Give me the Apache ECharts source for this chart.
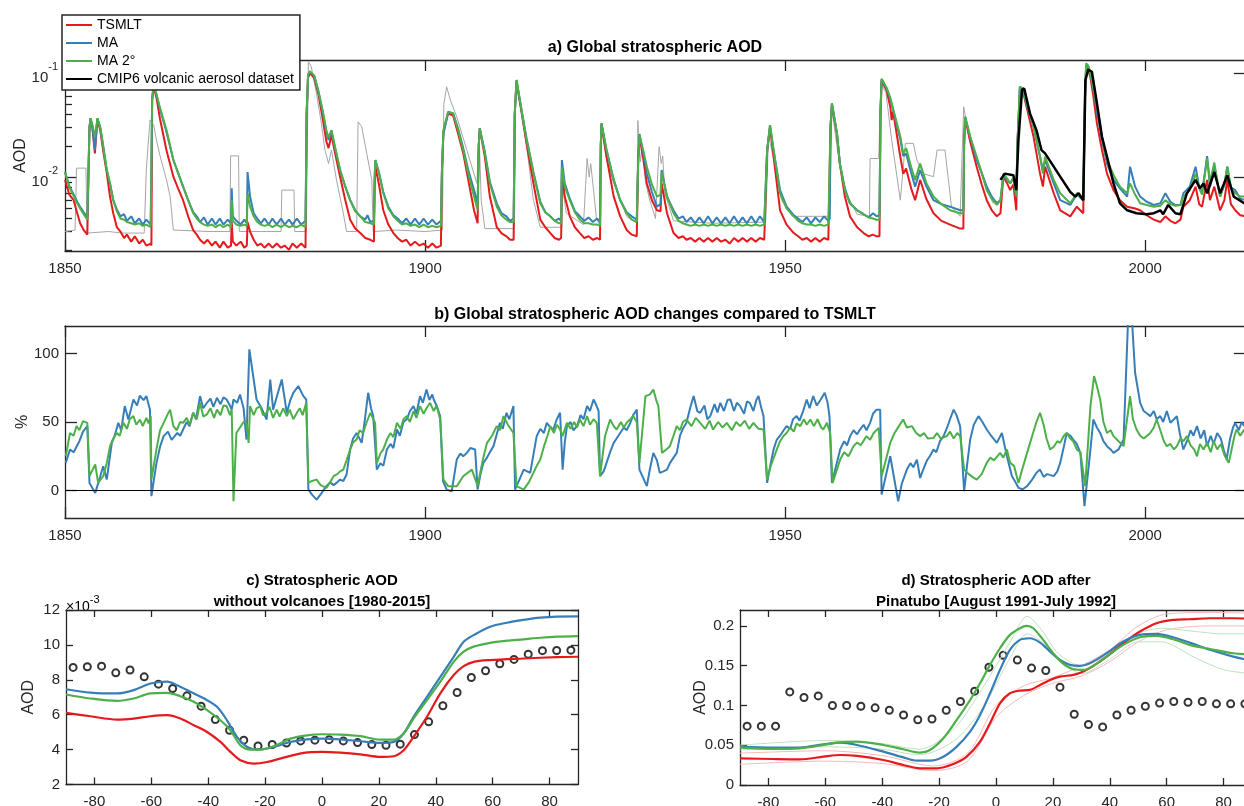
<!DOCTYPE html>
<html><head><meta charset="utf-8">
<script src="https://cdn.jsdelivr.net/npm/echarts@6/dist/echarts.min.js"></script>
<style>html,body{margin:0;padding:0;background:#fff}#chart{width:1244px;height:806px}</style>
</head><body><div id="chart"></div>
<script>
// ---------------- tick labels ----------------
const yearTicks = [1850, 1900, 1950, 2000];
const aodMajorTicks = [0.01, 0.1];
const aodMinorTicks = [0.002,0.003,0.004,0.005,0.006,0.007,0.008,0.009,0.02,0.03,0.04,0.05,0.06,0.07,0.08,0.09];
const pctTicks = [0, 50, 100];
const latTicks = [-80, -60, -40, -20, 0, 20, 40, 60, 80];
const cTicks = [2, 4, 6, 8, 10, 12];
const dTicks = [0, 0.05, 0.1, 0.15, 0.2];

// ---------------- panel a: global stratospheric AOD [year, AOD] ----------------
const aTSMLT = [[1850.0,0.0094],[1850.6,0.0068],[1851.2,0.006],[1851.7,0.0045],[1852.1,0.0036],[1852.6,0.0031],[1853.1,0.0028],[1853.3,0.0027],
[1853.4,0.03],[1853.55,0.0366],[1853.8,0.03],[1854.15,0.0169],[1854.5,0.0366],[1854.9,0.028],[1855.3,0.018],[1855.8,0.011],[1856.25,0.0065],[1856.7,0.0045],[1857.2,0.0033],[1857.7,0.003],[1858.2,0.0026],[1858.6,0.0028],[1859.2,0.0024],[1859.7,0.0027],[1860.3,0.0023],[1860.8,0.0025],[1861.3,0.0022],[1861.9,0.0023],
[1862.0,0.0022],[1862.1,0.055],[1862.3,0.075],[1862.7,0.058],[1863.2,0.036],[1864.1,0.018],[1865.05,0.0101],[1865.7,0.0078],[1866.4,0.006],[1867.1,0.0042],[1867.8,0.0031],[1868.3,0.0028],[1868.75,0.0025],[1869.3,0.0023],[1869.8,0.0025],[1870.4,0.0022],[1870.9,0.0024],[1871.5,0.0021],[1872.0,0.0024],[1872.6,0.0021],[1873.05,0.0022],[1873.15,0.0037],[1873.3,0.0024],[1873.8,0.0022],[1874.4,0.0024],[1874.9,0.0021],[1875.25,0.0022],[1875.35,0.0037],[1875.7,0.003],[1876.2,0.0025],[1876.7,0.0022],[1877.2,0.0023],[1877.7,0.0021],[1878.3,0.0023],[1878.8,0.0021],[1879.4,0.0023],[1880.0,0.0021],[1880.5,0.0022],[1881.1,0.002],[1881.6,0.0023],[1882.2,0.0021],[1882.8,0.0023],[1883.4,0.0021],
[1883.55,0.04],[1883.75,0.09],[1884.0,0.1],[1884.6,0.09],[1885.2,0.062],[1885.8,0.036],[1886.3,0.022],[1886.6,0.019],[1887.0,0.0254],[1887.5,0.017],[1888.2,0.0101],[1888.9,0.0061],[1889.6,0.0039],[1890.3,0.0032],[1891.0,0.0029],[1891.7,0.0026],[1892.4,0.0025],[1892.9,0.0024],
[1893.0,0.008],[1893.1,0.0126],[1893.6,0.0085],[1894.2,0.0048],[1894.9,0.0035],[1895.6,0.0029],[1896.2,0.0026],[1896.8,0.0024],[1897.4,0.0025],[1898.0,0.0022],[1898.6,0.0024],[1899.2,0.0022],[1899.8,0.0023],[1900.4,0.0021],[1901.0,0.0023],[1901.6,0.0021],[1902.2,0.0022],
[1902.35,0.012],[1902.55,0.027],[1903.2,0.041],[1903.9,0.039],[1904.6,0.026],[1905.3,0.017],[1906.0,0.0094],[1906.8,0.0048],[1907.3,0.0036],
[1907.45,0.02],[1907.6,0.0294],[1908.3,0.0157],[1909.0,0.0065],[1909.96,0.0033],[1910.6,0.0029],[1911.3,0.0027],[1911.8,0.0025],[1912.3,0.0025],
[1912.45,0.04],[1912.7,0.083],[1913.4,0.042],[1914.1,0.021],[1915.05,0.0087],[1916.0,0.0039],[1916.7,0.0033],[1917.4,0.0029],[1918.0,0.0026],[1918.6,0.0025],[1918.9,0.0026],
[1919.0,0.0108],[1919.4,0.0065],[1920.1,0.0042],[1920.8,0.0033],[1921.5,0.0029],[1922.1,0.0026],[1922.7,0.0027],[1923.3,0.0025],[1923.9,0.0026],[1924.3,0.0025],
[1924.4,0.02],[1924.5,0.0328],[1925.2,0.0157],[1926.2,0.0065],[1927.1,0.0042],[1928.0,0.0031],[1928.7,0.0028],[1929.4,0.0027],
[1929.6,0.015],[1929.77,0.025],[1930.3,0.015],[1930.8,0.0087],[1931.5,0.006],[1932.2,0.0048],[1932.7,0.0047],
[1932.85,0.0087],[1933.6,0.0045],[1934.5,0.0029],[1935.2,0.0026],[1935.8,0.0027],[1936.3,0.0025],[1936.9,0.0026],[1937.5,0.0024],[1938.1,0.0026],[1938.7,0.0024],[1939.3,0.0026],[1939.9,0.0024],[1940.5,0.0026],[1941.1,0.0024],[1941.7,0.0025],[1942.3,0.0023],[1942.9,0.0026],[1943.5,0.0024],[1944.1,0.0026],[1944.7,0.0024],[1945.3,0.0026],[1945.9,0.0024],[1946.5,0.0026],[1947.1,0.0025],
[1947.3,0.0026],[1947.5,0.018],[1947.9,0.03],[1948.4,0.0157],[1949.3,0.0048],[1950.2,0.0035],[1951.2,0.0029],[1951.8,0.0027],[1952.4,0.0025],[1953.0,0.0026],[1953.6,0.0024],[1954.2,0.0026],[1954.8,0.0024],[1955.4,0.0026],[1956.0,0.0025],[1956.2,0.0026],
[1956.3,0.03],[1956.5,0.05],[1957.2,0.026],[1957.6,0.0135],[1958.3,0.0065],[1959.0,0.0042],[1960.0,0.0033],[1960.9,0.0029],[1961.6,0.0027],[1962.2,0.0028],[1962.7,0.0027],[1963.1,0.0027],
[1963.25,0.04],[1963.4,0.085],[1964.1,0.068],[1964.6,0.0475],[1964.8,0.0353],[1965.0,0.0425],[1966.0,0.0157],[1966.4,0.0108],[1966.8,0.0121],[1967.5,0.0078],[1968.05,0.006],[1968.75,0.0094],[1969.6,0.0062],[1970.6,0.0045],[1971.7,0.0038],[1972.9,0.0035],[1974.3,0.0032],[1974.75,0.0032],
[1974.85,0.02],[1975.0,0.037],[1975.7,0.022],[1976.6,0.0126],[1977.3,0.0085],[1978.0,0.006],[1978.7,0.0048],[1979.4,0.0042],[1979.9,0.0045],
[1980.3,0.0101],[1980.8,0.0088],[1981.25,0.0075],[1981.7,0.0085],[1982.1,0.0048],[1982.25,0.02],[1982.6,0.07],[1983.0,0.068],[1983.6,0.045],[1984.5,0.0244],[1985.4,0.0108],[1985.8,0.0081],[1986.1,0.0126],[1987.3,0.007],[1988.2,0.0048],[1989.6,0.0042],[1990.5,0.0052],[1991.4,0.0045],[1991.55,0.0046],
[1991.65,0.06],[1991.8,0.113],[1992.1,0.11],[1992.4,0.09],[1992.8,0.06],[1993.3,0.0328],[1994.0,0.0182],[1994.7,0.0108],[1995.6,0.0075],[1996.5,0.006],[1997.5,0.0052],[1998.6,0.005],[1999.3,0.0048],[2000.2,0.0043],[2001.2,0.0039],[2002.1,0.0037],[2002.8,0.0042],[2003.5,0.0038],[2004.2,0.0036],[2004.9,0.0039],[2005.3,0.0052],[2006.2,0.006],[2007.0,0.0081],[2007.5,0.0055],[2007.9,0.0052],[2008.6,0.0094],[2009.0,0.006],[2009.6,0.0081],[2010.4,0.0048],[2011.0,0.006],[2011.4,0.0094],[2011.9,0.0055],[2012.5,0.0048],[2013.2,0.0043],[2014.0,0.0042]];

const aMA = [[1850.0,0.0112],[1850.6,0.0082],[1851.2,0.0068],[1851.7,0.0058],[1852.1,0.0052],[1852.6,0.0046],[1853.1,0.0041],[1853.3,0.004],
[1853.4,0.03],[1853.55,0.0366],[1853.8,0.03],[1854.15,0.0182],[1854.5,0.0366],[1854.9,0.03],[1855.3,0.02],[1855.8,0.0117],[1856.25,0.0087],[1856.7,0.006],[1857.2,0.0049],[1857.7,0.0042],[1858.2,0.0044],[1858.6,0.0038],[1859.2,0.0042],[1859.7,0.0036],[1860.3,0.004],[1860.8,0.0035],[1861.3,0.0039],[1861.9,0.0035],
[1862.0,0.0035],[1862.1,0.055],[1862.3,0.076],[1862.7,0.062],[1863.2,0.045],[1864.1,0.027],[1865.05,0.0146],[1865.7,0.011],[1866.4,0.0081],[1867.1,0.006],[1867.8,0.0046],[1868.3,0.0042],[1868.75,0.0037],[1869.3,0.0041],[1869.8,0.0035],[1870.4,0.004],[1870.9,0.0035],[1871.5,0.004],[1872.0,0.0035],[1872.6,0.0039],[1873.05,0.0036],[1873.15,0.0078],[1873.3,0.0042],[1873.8,0.0038],[1874.4,0.0035],[1874.9,0.0039],[1875.25,0.0036],[1875.35,0.0112],[1875.7,0.0065],[1876.2,0.0045],[1876.7,0.004],[1877.2,0.0036],[1877.7,0.004],[1878.3,0.0035],[1878.8,0.004],[1879.4,0.0035],[1880.0,0.004],[1880.5,0.0035],[1881.1,0.0039],[1881.6,0.0035],[1882.2,0.004],[1882.8,0.0035],[1883.4,0.0038],
[1883.55,0.04],[1883.75,0.095],[1884.0,0.103],[1884.6,0.094],[1885.2,0.066],[1885.8,0.042],[1886.3,0.027],[1886.6,0.0227],[1887.0,0.028],[1887.5,0.019],[1888.2,0.0117],[1888.9,0.0082],[1889.6,0.006],[1890.3,0.0048],[1891.0,0.0042],[1891.7,0.0039],[1892.0,0.0043],[1892.4,0.0037],[1892.9,0.0038],
[1893.0,0.01],[1893.1,0.0146],[1893.6,0.011],[1894.2,0.0072],[1894.9,0.0052],[1895.6,0.0043],[1896.2,0.004],[1896.8,0.0036],[1897.4,0.004],[1898.0,0.0035],[1898.6,0.004],[1899.2,0.0035],[1899.8,0.004],[1900.4,0.0035],[1901.0,0.0039],[1901.6,0.0035],[1902.2,0.0038],
[1902.35,0.012],[1902.55,0.026],[1903.2,0.042],[1903.9,0.041],[1904.6,0.029],[1905.3,0.019],[1906.0,0.0117],[1906.8,0.0075],[1907.3,0.0056],
[1907.45,0.02],[1907.6,0.0294],[1908.3,0.0175],[1909.0,0.009],[1909.96,0.0056],[1910.6,0.0045],[1911.3,0.0042],[1911.8,0.0038],[1912.3,0.004],
[1912.45,0.04],[1912.7,0.0857],[1913.4,0.044],[1914.1,0.0235],[1915.05,0.0112],[1916.0,0.0058],[1916.7,0.0046],[1917.4,0.0042],[1918.0,0.0038],[1918.6,0.004],[1918.9,0.0038],
[1919.0,0.0146],[1919.4,0.0087],[1920.1,0.0062],[1920.8,0.0047],[1921.5,0.0042],[1922.1,0.0038],[1922.7,0.0041],[1923.3,0.0037],[1923.9,0.004],[1924.3,0.0037],
[1924.4,0.02],[1924.5,0.0328],[1925.2,0.0182],[1926.2,0.0094],[1927.1,0.006],[1928.0,0.0046],[1928.7,0.0042],[1929.4,0.0039],
[1929.6,0.015],[1929.77,0.026],[1930.3,0.017],[1930.8,0.0108],[1931.5,0.0072],[1932.2,0.0052],[1932.7,0.0055],
[1932.85,0.0117],[1933.6,0.0065],[1934.5,0.0048],[1935.2,0.004],[1935.8,0.0042],[1936.3,0.0037],[1936.9,0.0041],[1937.5,0.0036],[1938.1,0.0041],[1938.7,0.0036],[1939.3,0.0042],[1939.9,0.0036],[1940.5,0.0041],[1941.1,0.0036],[1941.7,0.0041],[1942.3,0.0036],[1942.9,0.0042],[1943.5,0.0036],[1944.1,0.0041],[1944.7,0.0036],[1945.3,0.0042],[1945.9,0.0036],[1946.5,0.0042],[1947.1,0.0037],
[1947.3,0.0038],[1947.5,0.018],[1947.9,0.0316],[1948.4,0.0182],[1949.3,0.0075],[1950.2,0.0052],[1951.2,0.0043],[1951.8,0.004],[1952.4,0.0037],[1953.0,0.0041],[1953.6,0.0036],[1954.2,0.0041],[1954.8,0.0037],[1955.4,0.0042],[1956.0,0.0038],[1956.2,0.004],
[1956.3,0.03],[1956.5,0.0512],[1957.2,0.0263],[1957.6,0.0135],[1958.3,0.0078],[1959.0,0.0056],[1960.0,0.0048],[1960.9,0.0044],[1961.6,0.0041],[1962.2,0.0045],[1962.7,0.0042],[1963.1,0.0043],
[1963.25,0.045],[1963.4,0.087],[1964.1,0.071],[1964.6,0.056],[1964.8,0.05],[1965.0,0.052],[1966.0,0.023],[1966.4,0.016],[1966.8,0.0169],[1967.5,0.011],[1968.05,0.0081],[1968.75,0.0117],[1969.6,0.0082],[1970.6,0.006],[1971.7,0.0055],[1972.9,0.0052],[1974.3,0.0048],[1974.75,0.0048],
[1974.85,0.02],[1975.0,0.038],[1975.7,0.0244],[1976.6,0.0146],[1977.3,0.011],[1978.0,0.0081],[1978.7,0.0065],[1979.4,0.0056],[1979.9,0.006],
[1980.3,0.0101],[1980.8,0.0095],[1981.25,0.0087],[1981.7,0.0098],[1982.1,0.0065],[1982.25,0.02],[1982.6,0.0738],[1983.0,0.07],[1983.6,0.0475],[1984.5,0.0305],[1985.4,0.0157],[1985.8,0.0117],[1986.1,0.0146],[1987.3,0.0087],[1988.2,0.006],[1989.6,0.0054],[1990.5,0.0068],[1991.4,0.006],[1991.55,0.006],
[1991.65,0.06],[1991.8,0.118],[1992.1,0.115],[1992.4,0.097],[1992.8,0.07],[1993.3,0.0425],[1994.0,0.0227],[1994.7,0.0135],[1995.6,0.0094],[1996.5,0.0078],[1997.5,0.0065],[1997.9,0.0126],[1998.6,0.0081],[1999.3,0.0065],[2000.2,0.0058],[2001.2,0.0054],[2002.1,0.0056],[2002.8,0.007],[2003.5,0.0058],[2004.2,0.0054],[2004.9,0.0054],[2005.3,0.007],[2006.2,0.0081],[2007.0,0.0126],[2007.5,0.008],[2007.9,0.007],[2008.6,0.0159],[2009.0,0.0081],[2009.6,0.0126],[2010.4,0.0065],[2011.0,0.0085],[2011.4,0.0126],[2011.9,0.008],[2012.5,0.0075],[2013.2,0.0062],[2014.0,0.006]];

const aMA2 = [[1850.0,0.0112],[1850.6,0.008],[1851.2,0.0066],[1851.7,0.0056],[1852.1,0.005],[1852.6,0.0044],[1853.1,0.0039],[1853.3,0.0039],
[1853.4,0.03],[1853.55,0.0366],[1853.8,0.032],[1854.15,0.0244],[1854.5,0.0366],[1854.9,0.03],[1855.3,0.02],[1855.8,0.0117],[1856.25,0.0087],[1856.7,0.006],[1857.2,0.0047],[1857.7,0.004],[1858.2,0.0039],[1858.6,0.0037],[1859.2,0.0036],[1859.7,0.0035],[1860.3,0.0036],[1860.8,0.0034],[1861.3,0.0035],[1861.9,0.0033],
[1862.0,0.0033],[1862.1,0.055],[1862.3,0.077],[1862.7,0.063],[1863.2,0.046],[1864.1,0.0283],[1865.05,0.0146],[1865.7,0.011],[1866.4,0.0081],[1867.1,0.006],[1867.8,0.0045],[1868.3,0.004],[1868.75,0.0037],[1869.3,0.0035],[1869.8,0.0034],[1870.4,0.0035],[1870.9,0.0033],[1871.5,0.0035],[1872.0,0.0033],[1872.6,0.0035],[1873.05,0.0033],[1873.15,0.006],[1873.3,0.0038],[1873.8,0.0035],[1874.4,0.0034],[1874.9,0.0035],[1875.25,0.0034],[1875.35,0.007],[1875.7,0.0052],[1876.2,0.0042],[1876.7,0.0037],[1877.2,0.0035],[1877.7,0.0034],[1878.3,0.0035],[1878.8,0.0033],[1879.4,0.0035],[1880.0,0.0033],[1880.5,0.0035],[1881.1,0.0033],[1881.6,0.0034],[1882.2,0.0033],[1882.8,0.0035],[1883.4,0.0033],
[1883.55,0.04],[1883.75,0.097],[1884.0,0.104],[1884.6,0.095],[1885.2,0.067],[1885.8,0.043],[1886.3,0.028],[1886.6,0.024],[1887.0,0.0283],[1887.5,0.0195],[1888.2,0.0117],[1888.9,0.0082],[1889.6,0.006],[1890.3,0.0047],[1891.0,0.0042],[1891.7,0.0037],[1892.4,0.0036],[1892.9,0.0035],
[1893.0,0.01],[1893.1,0.0146],[1893.6,0.011],[1894.2,0.007],[1894.9,0.005],[1895.6,0.0042],[1896.2,0.0038],[1896.8,0.0035],[1897.4,0.0036],[1898.0,0.0034],[1898.6,0.0035],[1899.2,0.0033],[1899.8,0.0035],[1900.4,0.0033],[1901.0,0.0034],[1901.6,0.0033],[1902.2,0.0034],
[1902.35,0.012],[1902.55,0.0283],[1903.2,0.0425],[1903.9,0.041],[1904.6,0.028],[1905.3,0.0182],[1906.0,0.0108],[1906.8,0.0065],[1907.3,0.0048],
[1907.45,0.02],[1907.6,0.0294],[1908.3,0.0169],[1909.0,0.0087],[1909.96,0.0052],[1910.6,0.0043],[1911.3,0.0039],[1911.8,0.0037],[1912.3,0.0037],
[1912.45,0.04],[1912.7,0.0857],[1913.4,0.044],[1914.1,0.0227],[1915.05,0.0108],[1916.0,0.0056],[1916.7,0.0046],[1917.4,0.0042],[1918.0,0.0038],[1918.6,0.0036],[1918.9,0.0036],
[1919.0,0.0126],[1919.4,0.0081],[1920.1,0.006],[1920.8,0.0046],[1921.5,0.0039],[1922.1,0.0036],[1922.7,0.0036],[1923.3,0.0035],[1923.9,0.0035],[1924.3,0.0034],
[1924.4,0.02],[1924.5,0.0328],[1925.2,0.0182],[1926.2,0.0094],[1927.1,0.006],[1928.0,0.0045],[1928.7,0.0039],[1929.4,0.0037],
[1929.6,0.015],[1929.77,0.0254],[1930.3,0.018],[1930.8,0.0126],[1931.5,0.0085],[1932.2,0.0065],[1932.7,0.0068],
[1932.85,0.011],[1933.6,0.0065],[1934.5,0.0045],[1935.2,0.0038],[1935.8,0.0036],[1936.3,0.0035],[1936.9,0.0034],[1937.5,0.0035],[1938.1,0.0034],[1938.7,0.0035],[1939.3,0.0034],[1939.9,0.0035],[1940.5,0.0034],[1941.1,0.0035],[1941.7,0.0034],[1942.3,0.0035],[1942.9,0.0034],[1943.5,0.0035],[1944.1,0.0034],[1944.7,0.0035],[1945.3,0.0034],[1945.9,0.0035],[1946.5,0.0034],[1947.1,0.0035],
[1947.3,0.0035],[1947.5,0.018],[1947.9,0.0316],[1948.4,0.0182],[1949.3,0.007],[1950.2,0.005],[1951.2,0.0042],[1951.8,0.0038],[1952.4,0.0036],[1953.0,0.0035],[1953.6,0.0035],[1954.2,0.0034],[1954.8,0.0035],[1955.4,0.0034],[1956.0,0.0035],[1956.2,0.0035],
[1956.3,0.03],[1956.5,0.0512],[1957.2,0.0263],[1957.6,0.0135],[1958.3,0.0075],[1959.0,0.0056],[1960.0,0.0048],[1960.9,0.0044],[1961.6,0.0041],[1962.2,0.004],[1962.7,0.0039],[1963.1,0.0039],
[1963.25,0.045],[1963.4,0.088],[1964.1,0.072],[1964.6,0.058],[1964.8,0.0512],[1965.0,0.053],[1966.0,0.0244],[1966.4,0.0169],[1966.8,0.019],[1967.5,0.0125],[1968.05,0.0094],[1968.75,0.0135],[1969.6,0.0088],[1970.6,0.0065],[1971.7,0.0055],[1972.9,0.0048],[1974.3,0.0045],[1974.75,0.0045],
[1974.85,0.02],[1975.0,0.038],[1975.7,0.0244],[1976.6,0.0157],[1977.3,0.011],[1978.0,0.0075],[1978.7,0.0062],[1979.4,0.0054],[1979.9,0.006],
[1980.3,0.0108],[1980.8,0.0098],[1981.25,0.0087],[1981.7,0.0098],[1982.1,0.0065],[1982.25,0.02],[1982.6,0.0738],[1983.0,0.071],[1983.6,0.05],[1984.5,0.0305],[1985.4,0.0157],[1985.8,0.0108],[1986.1,0.0157],[1987.3,0.0094],[1988.2,0.007],[1989.6,0.0056],[1990.5,0.007],[1991.4,0.006],[1991.55,0.006],
[1991.65,0.07],[1991.8,0.124],[1992.1,0.118],[1992.4,0.099],[1992.8,0.072],[1993.3,0.0475],[1994.0,0.0244],[1994.7,0.0146],[1995.6,0.0105],[1996.5,0.0081],[1997.5,0.007],[1997.9,0.0087],[1998.6,0.0068],[1999.3,0.0056],[2000.2,0.0054],[2001.2,0.0052],[2002.1,0.0053],[2002.8,0.006],[2003.5,0.0055],[2004.2,0.0053],[2004.9,0.0054],[2005.3,0.0065],[2006.2,0.0075],[2007.0,0.0108],[2007.5,0.0078],[2007.9,0.0068],[2008.6,0.0151],[2009.0,0.009],[2009.6,0.0138],[2010.4,0.0065],[2011.0,0.0085],[2011.4,0.0126],[2011.9,0.008],[2012.5,0.007],[2013.2,0.0065],[2014.0,0.0065]];

const aCMIP6pre = [[1850.0,0.003],[1851.4,0.0031],[1851.6,0.0122],[1852.9,0.0122],[1853.1,0.0029],[1856,0.003],[1858,0.0029],[1861.0,0.0029],[1861.3,0.012],[1861.8,0.0353],[1862.3,0.032],[1862.7,0.0227],[1863.2,0.016],[1864.1,0.0094],[1864.6,0.0065],[1865.05,0.0031],[1870,0.003],[1872.9,0.003],[1873.0,0.016],[1874.1,0.016],[1874.2,0.003],[1880.0,0.003],[1880.1,0.0075],[1881.8,0.0075],[1881.9,0.003],[1883.5,0.003],[1883.8,0.1286],[1884.2,0.115],[1884.95,0.062],[1885.6,0.0328],[1886.1,0.0182],[1886.6,0.0135],[1887.0,0.0182],[1887.7,0.0094],[1888.65,0.0045],[1889.1,0.003],[1890.5,0.003],[1890.7,0.034],[1891.2,0.0305],[1891.9,0.0169],[1892.6,0.0094],[1892.8,0.003],[1896,0.0031],[1900,0.003],[1902.4,0.0031],[1902.6,0.05],[1903.0,0.0738],[1903.5,0.0553],[1904.4,0.038],[1905.8,0.0182],[1907.2,0.0087],[1907.5,0.0263],[1907.8,0.006],[1908.3,0.0032],[1912.4,0.0032],[1912.6,0.082],[1913.2,0.05],[1914.1,0.0196],[1915.05,0.006],[1916.0,0.0033],[1919.0,0.0033],[1919.1,0.008],[1919.6,0.0045],[1922.0,0.0035],[1922.3,0.0085],[1922.5,0.0151],[1922.8,0.01],[1923.0,0.0135],[1923.4,0.0075],[1923.8,0.004],[1924.3,0.0034],[1924.45,0.03],[1925.2,0.015],[1926.2,0.0087],[1928.0,0.0042],[1929.4,0.0036],[1929.55,0.035],[1929.9,0.014],[1930.2,0.02],[1930.6,0.009],[1931.2,0.006],[1932.0,0.004],[1932.5,0.0196],[1932.8,0.0135],[1933.0,0.016],[1933.3,0.007],[1934.5,0.0038],[1940,0.0036],[1947.3,0.0037],[1947.7,0.025],[1948.4,0.015],[1949.5,0.006],[1951,0.0042],[1956.2,0.0042],[1956.5,0.045],[1957.5,0.014],[1958.5,0.007],[1960,0.0044],[1961.7,0.0042],[1961.8,0.0151],[1963.0,0.0151],[1963.3,0.08],[1964.0,0.065],[1964.8,0.0227],[1966.0,0.006],[1966.7,0.0211],[1967.8,0.0211],[1968.3,0.0146],[1969.2,0.0108],[1970.6,0.0101],[1971.1,0.0182],[1972.2,0.0182],[1973.1,0.0052],[1974.3,0.0042],[1974.8,0.0475],[1975.5,0.0244],[1976.6,0.0146],[1978.0,0.0075],[1978.9,0.0056],[1979.9,0.006]];

const aCMIP6 = [[1979.9,0.0094],[1980.5,0.0108],[1981.7,0.0104],[1982.1,0.0075],[1982.4,0.0227],[1982.9,0.069],[1983.2,0.0712],[1984.0,0.041],[1984.9,0.0283],[1985.6,0.0182],[1986.1,0.0169],[1987.3,0.0126],[1988.2,0.0101],[1989.6,0.0072],[1990.3,0.0065],[1990.75,0.007],[1991.4,0.006],[1991.7,0.0857],[1992.1,0.108],[1992.6,0.103],[1993.3,0.0512],[1994.0,0.0244],[1994.7,0.0157],[1995.6,0.0087],[1996.5,0.0056],[1997.5,0.0048],[1998.8,0.0045],[2000.2,0.0044],[2001.2,0.0045],[2002.1,0.0048],[2002.5,0.0044],[2003.2,0.0054],[2004.2,0.0045],[2004.9,0.0044],[2005.8,0.007],[2007.0,0.0094],[2007.6,0.0078],[2008.1,0.0087],[2008.6,0.007],[2009.6,0.0112],[2010.4,0.007],[2011.4,0.0104],[2012.3,0.0065],[2013.75,0.0056],[2014.0,0.0056]];

// ---------------- panel b: change vs TSMLT (%) ----------------
const bMA = [[1850.1,20.2],[1850.7,30],[1851.2,28],[1851.6,32],[1852.0,36],[1852.5,43],[1853.1,47],[1853.4,5.6],[1854.2,-1.7],[1854.9,10.5],[1855.3,17.8],[1855.8,8],
[1856.5,34.8],[1856.9,40],[1857.4,49.4],[1857.8,44],[1858.3,61.6],[1858.8,51.8],[1859.2,60],[1859.5,66.4],[1860.0,62],[1860.4,69.3],[1860.9,66],[1861.3,68.9],[1861.8,59],[1862.0,-4.1],
[1862.7,20],[1863.2,32],[1863.7,39.7],[1864.3,43],[1864.8,37],[1865.05,37.2],[1865.6,42],[1866.0,40],[1866.4,44.5],[1866.9,50],[1867.3,47],[1867.8,56.7],[1868.2,52],[1868.75,68.9],[1869.2,60],[1869.7,64],[1870.2,67],[1870.6,61],[1871.1,67.6],[1871.6,63],[1872.0,68],[1872.45,66.4],[1872.9,62],[1873.15,59],[1873.4,66.4],[1873.9,64],[1874.3,70],[1874.8,60],[1875.2,37.2],[1875.6,103],[1876.2,81],[1876.6,66.4],[1877.3,60],[1878.0,51.8],[1878.5,81],[1878.9,59],[1879.5,70],[1880.1,81],[1880.8,56.7],[1881.3,66],[1881.7,71.3],[1882.4,76.2],[1883.1,68.9],[1883.5,66.4],
[1883.8,0.7],[1884.3,-3],[1884.95,-6.6],[1885.6,-2],[1886.3,3.2],[1886.8,6],[1887.3,4],[1887.7,5.6],[1888.2,8],[1888.65,7],[1889.1,11.7],[1889.6,30],[1890.0,38],[1890.5,42],[1891.2,34.8],[1891.6,50],[1892.1,71.3],[1892.5,60],[1892.8,54.3],[1893.3,15.3],
[1893.8,20],[1894.2,18],[1894.7,30],[1895.2,34],[1895.6,31],[1896.1,44.5],[1896.5,40],[1897.0,50],[1897.45,51.8],[1897.9,58],[1898.4,61.6],[1898.8,56],[1899.3,68.9],[1899.7,64],[1900.2,73.7],[1900.6,66],[1901.0,70],[1901.2,66.4],[1901.6,62],[1902.1,54.3],
[1902.5,6.8],[1903.0,0.7],[1903.7,-0.5],[1904.4,22.6],[1904.9,27],[1905.3,25],[1905.8,27.5],[1906.3,31],[1906.95,30],[1907.3,0.7],[1907.7,12],[1908.1,20.2],[1908.6,24],[1909.0,28],[1909.5,32.4],[1909.9,40],[1910.4,49.4],[1910.8,45],[1911.3,56.7],[1911.7,52],[1912.27,61.6],
[1912.5,0.7],[1913.7,15.3],[1914.6,12.9],[1915.5,39.7],[1916.0,45],[1916.5,42],[1916.9,49.4],[1917.4,46],[1917.8,44.5],[1918.3,52],[1918.75,56.7],[1919.1,15.3],[1919.4,35],[1919.7,47],[1920.2,50],[1920.6,44],[1921.1,47],[1921.6,55],[1922.0,52],[1922.5,61.6],[1922.9,58],[1923.4,66.4],[1923.8,62],[1924.1,58],[1924.3,10.5],
[1924.8,14],[1925.2,20.2],[1925.7,28],[1926.2,34.8],[1926.6,38],[1927.1,42],[1927.6,46],[1928.0,44],[1928.5,49.4],[1928.9,55],[1929.4,59],[1929.77,15.3],
[1930.8,3.2],[1931.2,15],[1931.7,27.5],[1932.2,22],[1932.6,12.9],[1933.1,14],[1933.6,15.3],[1934.0,20],[1934.5,24],[1934.95,27.5],[1935.4,40],[1935.8,45],[1936.3,49.4],
[1936.8,60],[1937.3,68.9],[1937.8,58],[1938.2,56.7],[1938.8,62],[1939.2,52],[1939.6,54.3],[1940.2,63],[1940.6,57],[1941.0,64],[1941.5,58],[1942.0,66],[1942.4,66.4],[1942.9,58],[1943.3,64],[1943.75,61.6],[1944.3,56],[1944.7,65],[1945.1,64],[1945.6,58],[1946.0,66],[1946.3,68.9],[1946.7,60],[1947.0,54.3],[1947.5,5.6],
[1948.0,20],[1948.4,30],[1948.85,37.2],[1949.3,40],[1949.8,44],[1950.2,47],[1950.7,45],[1951.1,52],[1951.6,54.3],[1952.0,51],[1952.5,58],[1953.0,66.4],[1953.4,60],[1953.9,68.9],[1954.4,62],[1954.9,66],[1955.5,71.3],[1955.9,64],[1956.16,54.3],[1956.5,5.6],
[1957.64,30],[1958.2,36],[1958.6,33],[1959.03,39.7],[1959.5,44],[1960.0,41],[1960.4,44.5],[1960.9,48],[1961.3,44],[1961.8,49.4],[1962.2,56],[1962.7,59],[1963.2,59],[1963.4,-2.9],
[1964.6,25],[1965.7,-7.8],[1966.2,5],[1966.9,15.3],[1967.4,20],[1967.8,17],[1968.3,22.6],[1968.75,9.2],[1969.3,17],[1969.7,22],[1970.1,25],[1970.6,30],[1971.0,28],[1971.5,36],[1972.0,39.7],[1972.5,46],[1972.9,52],[1973.4,59],[1973.8,55],[1974.3,47],[1974.86,-0.5],
[1975.3,20],[1975.7,37.2],[1976.2,48],[1976.85,54.3],[1977.4,50],[1978.0,44.5],[1978.6,40],[1979.4,34.8],[1980.1,42],[1980.8,25],[1981.5,10.5],[1982.0,6],[1982.4,2],[1983.0,1],[1983.6,3.2],[1984.3,8],[1984.9,13],[1985.4,15.3],[1985.9,10],[1986.4,12],[1987.3,10.5],[1987.8,14],[1988.2,20.2],[1988.7,32],[1989.1,42],[1989.6,40],[1990.0,37.2],[1990.5,34],[1991.0,27.5],[1991.57,-11.4],
[1992.4,30],[1992.8,51.8],[1993.3,46],[1993.75,42],[1994.2,36],[1994.7,32.4],[1995.2,30],[1995.6,27.5],[1996.3,30],[1997.0,37.2],[1997.7,135],[1998.1,130],[1998.6,85.9],[1999.3,64],[1999.8,58],[2000.3,56],[2000.7,54.3],[2001.2,58],[2001.6,52],[2002.1,54.3],[2002.5,50],[2003.0,58],[2003.5,49.4],[2004.0,52],[2004.4,54.3],[2004.8,42],[2005.3,30],[2005.8,36],[2006.3,44],[2006.7,40],[2007.2,47],[2007.7,38],[2008.2,44],[2008.6,32.4],[2009.1,40],[2009.5,34],[2010.0,42],[2010.5,38],[2010.9,30],[2011.3,22.6],[2011.8,38],[2012.2,46],[2012.5,49.4],[2013.0,44],[2013.4,50],[2013.75,47]];

const bMA2 = [[1850.1,25],[1850.7,42],[1851.2,40],[1851.6,47],[1852.0,44],[1852.5,50.6],[1853.1,49.4],[1853.4,10.5],[1854.2,19],[1854.6,5.6],[1855.3,10.5],[1855.8,20],[1856.25,32.4],[1856.7,38],[1857.2,42],[1857.6,40],[1858.1,49.4],[1858.6,45],[1859.0,52],[1859.5,54.3],[1859.9,48],[1860.4,51.8],[1860.8,47],[1861.3,53],[1861.6,49],[1861.9,54.3],[1862.0,8],
[1862.7,30],[1863.2,44],[1863.7,49.4],[1864.2,55],[1864.6,59],[1865.05,47],[1865.5,44],[1866.0,50],[1866.4,49.4],[1866.9,53],[1867.3,48],[1867.8,56.7],[1868.3,52],[1868.75,64],[1869.2,54],[1869.7,55.5],[1870.2,60],[1870.7,53],[1871.1,59],[1871.6,55],[1872.0,62],[1872.45,61.6],[1872.9,55],[1873.15,59],[1873.4,-7.8],[1873.8,42],[1874.3,46],[1874.8,50],[1875.2,49.4],[1875.5,34.8],[1875.7,61.6],[1876.2,55],[1876.6,60],[1877.1,61.6],[1877.5,55],[1878.0,56.7],[1878.4,61],[1878.9,53],[1879.4,59],[1879.8,54],[1880.3,60],[1880.8,54.3],[1881.2,59],[1881.7,52],[1882.2,56.7],[1882.6,60],[1883.0,55],[1883.5,64],
[1883.8,5.6],[1884.3,7],[1884.95,8],[1885.5,4],[1886.3,2],[1886.8,6],[1887.3,10.5],[1887.8,12],[1888.2,14],[1888.65,15.3],[1889.1,22],[1889.6,30],[1890.0,35],[1890.5,37.2],[1890.9,44],[1891.4,42],[1891.9,50],[1892.4,56.7],[1893.06,49.4],[1893.3,20.2],
[1893.8,27],[1894.2,30],[1894.7,37.2],[1895.2,42],[1895.6,39],[1896.1,49.4],[1896.6,45],[1897.0,52],[1897.45,54.3],[1897.9,50],[1898.4,58],[1898.8,53],[1899.3,61.6],[1899.8,56],[1900.2,60],[1900.7,64],[1901.2,58],[1901.6,62],[1902.1,51.8],
[1902.55,8],[1903.2,3.2],[1904.4,3.2],[1905.3,10.5],[1906.5,15.3],[1907.3,3.2],[1908.0,22],[1908.6,34.8],[1909.3,40],[1909.96,47],[1910.4,44],[1910.9,54.3],[1911.5,48],[1912.27,42],[1912.7,3.2],[1913.7,0.7],[1914.4,6],[1915.05,12.9],[1915.5,18],[1916.0,22.6],[1916.5,32],[1917.0,40],[1917.4,47],[1917.9,42],[1918.3,48],[1918.75,44.5],[1919.1,39.7],[1919.7,49.4],[1920.2,45],[1920.7,50],[1921.1,46],[1921.5,51.8],[1922.0,47],[1922.5,54.3],[1922.9,48],[1923.4,52],[1923.85,49.4],[1924.3,10.5],
[1925.0,40],[1925.7,51.8],[1926.2,47],[1926.6,44.5],[1927.2,50],[1927.6,46],[1928.0,49.4],[1928.5,52],[1928.9,54.3],[1929.4,50],[1929.77,20.2],[1930.6,68.9],[1931.2,70],[1931.7,73.7],[1932.1,66],[1932.4,61.6],[1932.9,27.5],[1933.5,30],[1934.0,32.4],[1934.5,40],[1934.95,47],[1935.4,44],[1935.8,50],[1936.3,51.8],
[1937.0,47],[1937.6,53],[1938.2,49.4],[1938.9,45],[1939.5,51],[1940.0,44.5],[1940.7,50],[1941.3,46],[1941.9,49.4],[1942.6,44],[1943.2,50],[1943.75,47],[1944.4,51],[1945.0,45],[1945.6,49.4],[1946.3,45],[1947.0,44.5],[1947.5,8],
[1948.0,18],[1948.85,30],[1949.3,36],[1949.8,40],[1950.2,42],[1950.7,46],[1951.2,43],[1951.6,49],[1952.1,47],[1952.6,52],[1953.0,48],[1953.5,51.8],[1954.0,47],[1954.5,52],[1955.0,46],[1955.3,44.5],[1955.8,49.4],[1956.25,42],[1956.6,5.6],
[1957.64,22.6],[1958.2,28],[1958.8,25],[1959.5,32.4],[1960.0,35],[1960.5,33],[1961.3,39.7],[1961.8,37],[1962.3,42],[1963.0,45.7],[1963.4,10.5],
[1964.6,34.8],[1965.2,42],[1965.8,47],[1966.4,51.8],[1966.9,46],[1967.6,47],[1968.2,42],[1968.75,39.7],[1969.3,42],[1969.8,38],[1970.6,38.4],[1971.1,42],[1971.6,38],[1972.45,39.7],[1972.9,43],[1973.4,38],[1973.9,42],[1974.3,39.7],[1974.86,15.3],
[1975.5,12],[1976.0,10],[1976.6,8],[1977.3,12],[1978.0,20.2],[1978.5,24],[1979.0,22],[1979.86,27.5],[1980.3,24],[1980.8,30],[1981.25,20.2],[1981.8,18],[1982.4,5.6],[1982.9,15],[1983.6,27.5],[1984.2,38],[1984.9,50],[1985.4,56.7],[1985.9,48],[1986.3,38],[1986.8,30],[1987.3,32],[1987.8,36],[1988.2,34.8],[1988.7,40],[1989.1,42],[1989.6,38],[1990.0,36],[1990.5,30],[1991.0,28],[1991.67,3.2],
[1992.4,61.6],[1992.9,83.5],[1993.3,76],[1993.75,66.4],[1994.2,50],[1994.7,42],[1995.2,44],[1995.6,39.7],[1996.3,36],[1997.0,32.4],[1997.9,68.9],[1998.3,52],[1998.8,44.5],[1999.3,40],[1999.8,38],[2000.2,39.7],[2000.7,42],[2001.2,46],[2001.6,51.8],[2002.1,44],[2002.6,36],[2003.0,32.4],[2003.5,34],[2004.0,30],[2004.4,32.4],[2004.9,38],[2005.3,36],[2005.8,39.7],[2006.3,33],[2006.8,30],[2007.2,25],[2007.6,34],[2008.1,30],[2008.6,34.8],[2009.1,28],[2009.5,36],[2010.0,30],[2010.5,34],[2011.0,26],[2011.6,20.2],[2012.0,30],[2012.4,40],[2012.7,44.5],[2013.2,40],[2013.75,44.5]];

// ---------------- panel c: AOD without volcanoes vs latitude (x1e-3) ----------------
const cTSMLT = [[-90,6.1],[-81.4,5.91],[-72,5.72],[-66.2,5.78],[-60.3,5.91],[-54.4,5.97],[-49.8,5.78],[-45.1,5.4],[-40.4,5.01],[-35.7,4.44],[-32.2,3.87],[-28.7,3.39],[-24,3.2],[-19.3,3.29],[-13.5,3.54],[-6.4,3.81],[0,3.87],[6.4,3.83],[13.5,3.73],[20.5,3.58],[25.2,3.62],[28.7,3.96],[32.2,4.73],[36.9,5.88],[41.6,7.22],[46.3,8.27],[49.8,8.78],[53.3,9.03],[59.1,9.13],[70.8,9.22],[82.6,9.3],[90,9.32]];
const cMA = [[-90,7.46],[-81.4,7.27],[-72,7.22],[-66.2,7.41],[-60.3,7.79],[-54.4,7.89],[-50.9,7.69],[-46.3,7.31],[-40.4,6.83],[-36.9,6.45],[-33.4,5.68],[-29.9,4.73],[-26.3,4.15],[-22.8,4.0],[-17,4.15],[-11.1,4.44],[-5.3,4.59],[0,4.63],[6.4,4.59],[13.5,4.48],[20.5,4.38],[25.2,4.44],[28.7,4.92],[32.2,5.88],[36.9,7.02],[41.6,8.17],[46.3,9.32],[49.8,10.18],[53.3,10.56],[59.1,11.04],[65,11.27],[70.8,11.43],[76.7,11.56],[82.6,11.62],[90,11.63]];
const cMA2 = [[-90,7.16],[-81.4,6.93],[-72,6.79],[-66.2,6.93],[-60.3,7.22],[-54.4,7.25],[-49.8,7.06],[-45.1,6.74],[-40.4,6.26],[-35.7,5.68],[-32.2,5.11],[-28.7,4.25],[-25.2,4.0],[-21.7,4.0],[-17,4.19],[-11.1,4.63],[-5.3,4.82],[0,4.88],[6.4,4.86],[13.5,4.77],[20.5,4.57],[25.2,4.57],[28.7,4.92],[32.2,5.78],[36.9,6.83],[41.6,7.89],[46.3,9.03],[49.8,9.61],[53.3,9.9],[59.1,10.12],[65,10.24],[70.8,10.32],[76.7,10.41],[82.6,10.47],[90,10.5]];
const obsLat = [-87.5,-82.5,-77.5,-72.5,-67.5,-62.5,-57.5,-52.5,-47.5,-42.5,-37.5,-32.5,-27.5,-22.5,-17.5,-12.5,-7.5,-2.5,2.5,7.5,12.5,17.5,22.5,27.5,32.5,37.5,42.5,47.5,52.5,57.5,62.5,67.5,72.5,77.5,82.5,87.5];
const cObs = [8.71,8.75,8.78,8.40,8.56,8.17,7.75,7.50,7.08,6.49,5.72,5.11,4.54,4.21,4.29,4.38,4.50,4.54,4.57,4.50,4.40,4.29,4.25,4.31,4.86,5.59,6.51,7.27,8.13,8.52,8.92,9.17,9.47,9.67,9.68,9.70];

// ---------------- panel d: AOD after Pinatubo vs latitude ----------------
const dTSMLT = [[-90,0.0335],[-78.2,0.0327],[-68.9,0.0323],[-60.7,0.0356],[-54.8,0.0377],[-48.9,0.0365],[-39.6,0.0314],[-32.6,0.0252],[-26.7,0.021],[-20.8,0.021],[-15,0.0264],[-10.3,0.0356],[-5.6,0.0545],[-2.1,0.0776],[1.4,0.1027],[4.9,0.1153],[8.4,0.1187],[11.9,0.1195],[15.5,0.1258],[19,0.1321],[22.5,0.1363],[27.2,0.1384],[30.7,0.1426],[34.2,0.1497],[38.9,0.1614],[44.7,0.1782],[50.6,0.1929],[56.4,0.2034],[62.3,0.2075],[68.1,0.2084],[75.2,0.2096],[83.4,0.2096],[90,0.209]];
const dMA = [[-90,0.0482],[-78.2,0.047],[-68.9,0.047],[-60.7,0.0512],[-54.8,0.0532],[-48.9,0.0503],[-39.6,0.0419],[-32.6,0.0348],[-27.9,0.0306],[-23.2,0.0306],[-18.5,0.0356],[-13.8,0.0482],[-9.1,0.0671],[-5.6,0.088],[-2.1,0.1153],[1.4,0.1447],[4.9,0.1698],[8.4,0.1824],[11.9,0.1845],[15.5,0.179],[19,0.1677],[22.5,0.1572],[26,0.151],[29.5,0.1497],[33,0.153],[38.9,0.1656],[44.7,0.1803],[50.6,0.1887],[56.4,0.19],[62.3,0.1857],[68.1,0.179],[75.2,0.17],[83.4,0.1614],[90,0.156]];
const dMA2 = [[-90,0.047],[-78.2,0.0453],[-68.9,0.0461],[-60.7,0.0503],[-54.8,0.0537],[-48.9,0.0545],[-39.6,0.0503],[-32.6,0.0449],[-26.7,0.0407],[-23.2,0.044],[-18.5,0.0587],[-13.8,0.0818],[-9.1,0.1069],[-5.6,0.1279],[-2.1,0.151],[1.4,0.1719],[4.9,0.1887],[8.4,0.1971],[10.8,0.2],[13.1,0.1971],[16.6,0.1824],[20.1,0.1656],[23.7,0.1522],[27.2,0.1455],[30.7,0.1447],[34.2,0.1497],[38.9,0.1614],[44.7,0.1761],[50.6,0.1857],[56.4,0.1874],[62.3,0.1832],[68.1,0.1761],[75.2,0.171],[83.4,0.1656],[90,0.164]];
const dEnsRedHi = [[-90,0.04],[-60,0.043],[-40,0.037],[-22,0.024],[-10,0.04],[0,0.1],[10,0.125],[20,0.135],[30,0.15],[40,0.17],[50,0.2],[60,0.215],[75,0.217],[90,0.216]];
const dEnsRedLo = [[-90,0.026],[-60,0.03],[-40,0.027],[-22,0.018],[-10,0.03],[0,0.085],[10,0.113],[20,0.128],[30,0.137],[40,0.155],[50,0.18],[60,0.195],[75,0.2],[90,0.2]];
const dEnsGreenHi = [[-90,0.05],[-60,0.056],[-40,0.052],[-27,0.045],[-15,0.07],[-5,0.12],[5,0.18],[11,0.212],[16,0.195],[22,0.165],[30,0.15],[40,0.165],[50,0.19],[58,0.197],[70,0.193],[80,0.19],[90,0.19]];
const dEnsGreenLo = [[-90,0.044],[-60,0.048],[-40,0.045],[-27,0.038],[-15,0.055],[-5,0.095],[5,0.16],[11,0.19],[16,0.18],[22,0.16],[30,0.14],[40,0.158],[50,0.18],[58,0.18],[70,0.16],[80,0.145],[90,0.14]];
const dObs = [0.074,0.074,0.074,0.117,0.110,0.112,0.100,0.100,0.099,0.097,0.094,0.088,0.082,0.083,0.094,0.105,0.118,0.148,0.163,0.157,0.147,0.144,0.123,0.089,0.076,0.073,0.088,0.094,0.099,0.103,0.105,0.104,0.105,0.102,0.102,0.102];

// ---------------- chart ----------------
const FONT = '"Liberation Sans", Arial, Helvetica, sans-serif';
const AX = '#262626';
const RED = '#e41a1c', BLUE = '#377eb8', GREEN = '#4daf4a';
const LW = 1.3;

function xAx(grid, min, max, ticks, tickLen, pos) {
  return {
    type: 'value', gridIndex: grid, position: pos, min: min, max: max,
    axisLine: {show: true, onZero: false, lineStyle: {color: AX, width: LW}},
    axisTick: {show: true, inside: true, length: tickLen, customValues: ticks, lineStyle: {color: AX, width: LW}},
    axisLabel: {show: pos === 'bottom', customValues: ticks, color: AX, fontSize: 15, fontFamily: FONT, margin: 10,
      formatter: function (v) { return String(v); }},
    splitLine: {show: false}, minorTick: {show: false}
  };
}
function yAx(grid, type, min, max, ticks, tickLen, pos, extra) {
  const o = {
    type: type, gridIndex: grid, position: pos, min: min, max: max,
    axisLine: {show: true, onZero: false, lineStyle: {color: AX, width: LW}},
    axisTick: {show: true, inside: true, length: tickLen, customValues: ticks, lineStyle: {color: AX, width: LW}},
    axisLabel: {show: pos === 'left', customValues: ticks, color: AX, fontSize: 15, fontFamily: FONT, margin: 6},
    splitLine: {show: false}, nameMoveOverlap: false
  };
  if (type === 'log') o.logBase = 10;
  return Object.assign(o, extra || {});
}
const nameStyle = {color: AX, fontSize: 16, fontFamily: FONT};
const supRich = {
  b: {fontSize: 15, fontFamily: FONT, color: AX, lineHeight: 24, verticalAlign: 'bottom'},
  s: {fontSize: 11, fontFamily: FONT, color: AX, lineHeight: 11, verticalAlign: 'top'}
};

function line(name, data, xi, yi, color, width, extra) {
  return Object.assign({
    type: 'line', name: name, data: data, xAxisIndex: xi, yAxisIndex: yi,
    showSymbol: false, symbol: 'none', lineStyle: {color: color, width: width},
    itemStyle: {color: color}, animation: false, clip: true, emphasis: {disabled: true}
  }, extra || {});
}

const AMIN = 0.00195, AMAX = 0.1335;
const option = {
  backgroundColor: '#fff',
  animation: false,
  textStyle: {fontFamily: FONT},
  title: [
    {text: 'a) Global stratospheric AOD', left: 655, top: 40, textAlign: 'center', padding: 0,
     textStyle: {fontSize: 16, fontWeight: 'bold', fontFamily: FONT, color: '#000'}},
    {text: 'b) Global stratospheric AOD changes compared to TSMLT', left: 655, top: 307, textAlign: 'center', padding: 0,
     textStyle: {fontSize: 16, fontWeight: 'bold', fontFamily: FONT, color: '#000'}},
    {text: 'c) Stratospheric AOD\nwithout volcanoes [1980-2015]', left: 322, top: 571, textAlign: 'center', padding: 0,
     textStyle: {fontSize: 15, lineHeight: 20.5, fontWeight: 'bold', fontFamily: FONT, color: '#000'}},
    {text: 'd) Stratospheric AOD after\nPinatubo [August 1991-July 1992]', left: 996, top: 571, textAlign: 'center', padding: 0,
     textStyle: {fontSize: 15, lineHeight: 20.5, fontWeight: 'bold', fontFamily: FONT, color: '#000'}}
  ],
  legend: {
    data: ['TSMLT', 'MA', 'MA 2°', 'CMIP6 volcanic aerosol dataset'],
    orient: 'vertical', left: 62, top: 15,
    backgroundColor: '#fff', borderColor: AX, borderWidth: 1.5, borderRadius: 0,
    padding: [2, 6, 3, 4], itemGap: 2, itemWidth: 26, itemHeight: 2, icon: 'rect',
    selectedMode: false,
    textStyle: {fontSize: 14, fontFamily: FONT, color: '#000', lineHeight: 16}
  },
  graphic: [
    {type: 'text', left: 66, top: 594, silent: true,
     style: {text: '{m|×10}{s|-3}', rich: {
       m: {fontSize: 14, fontFamily: FONT, color: '#555', lineHeight: 20, verticalAlign: 'bottom'},
       s: {fontSize: 11, fontFamily: FONT, color: '#555', lineHeight: 11, verticalAlign: 'top'}}}}
  ],
  grid: [
    {left: 65, top: 60, width: 1181, height: 191, outerBoundsMode: 'none'},
    {left: 65, top: 326, width: 1181, height: 192, outerBoundsMode: 'none'},
    {left: 66, top: 610, width: 512, height: 174.5, outerBoundsMode: 'none'},
    {left: 740, top: 610, width: 512, height: 175, outerBoundsMode: 'none'}
  ],
  xAxis: [
    xAx(0, 1850, 2014, yearTicks, 11, 'bottom'),
    xAx(0, 1850, 2014, yearTicks, 11, 'top'),
    xAx(1, 1850, 2014, yearTicks, 11, 'bottom'),
    xAx(1, 1850, 2014, yearTicks, 11, 'top'),
    xAx(2, -90, 90, latTicks, 7, 'bottom'),
    xAx(2, -90, 90, latTicks, 7, 'top'),
    xAx(3, -90, 90, latTicks, 7, 'bottom'),
    xAx(3, -90, 90, latTicks, 7, 'top')
  ],
  yAxis: [
    yAx(0, 'log', AMIN, AMAX, aodMajorTicks, 12, 'left', {
      name: 'AOD', nameLocation: 'middle', nameGap: 36, nameRotate: 90, nameTextStyle: nameStyle,
      axisLabel: {show: true, customValues: aodMajorTicks, margin: 7,
        formatter: function (v) { return '{b|10}{s|' + Math.round(Math.log10(v)) + '}'; }, rich: supRich}
    }),
    yAx(0, 'log', AMIN, AMAX, aodMajorTicks, 12, 'right'),
    yAx(0, 'log', AMIN, AMAX, aodMinorTicks, 7, 'left', {axisLine: {show: false}, axisLabel: {show: false}}),
    yAx(1, 'value', -20, 120, pctTicks, 12, 'left', {
      name: '%', nameLocation: 'middle', nameGap: 34, nameRotate: 90, nameTextStyle: nameStyle}),
    yAx(1, 'value', -20, 120, pctTicks, 12, 'right'),
    yAx(2, 'value', 2, 12, cTicks, 7, 'left', {
      name: 'AOD', nameLocation: 'middle', nameGap: 29, nameRotate: 90, nameTextStyle: nameStyle}),
    yAx(2, 'value', 2, 12, cTicks, 7, 'right'),
    yAx(3, 'value', 0, 0.22, dTicks, 7, 'left', {
      name: 'AOD', nameLocation: 'middle', nameGap: 31, nameRotate: 90, nameTextStyle: nameStyle}),
    yAx(3, 'value', 0, 0.22, dTicks, 7, 'right')
  ],
  series: [
    // panel a
    line('CMIP6 (pre-1980)', aCMIP6pre, 0, 0, '#a6a6a6', 1),
    line('TSMLT', aTSMLT, 0, 0, RED, 2),
    line('MA', aMA, 0, 0, BLUE, 2),
    line('MA 2°', aMA2, 0, 0, GREEN, 2),
    line('CMIP6 volcanic aerosol dataset', aCMIP6, 0, 0, '#000', 2.5),
    // panel b
    line('MA', bMA, 2, 3, BLUE, 2, {markLine: {silent: true, symbol: ['none', 'none'], animation: false,
      label: {show: false}, lineStyle: {color: '#000', width: 1, type: 'solid'}, data: [{yAxis: 0}]}}),
    line('MA 2°', bMA2, 2, 3, GREEN, 2),
    // panel c
    line('TSMLT', cTSMLT, 4, 5, RED, 2.2, {smooth: 0.3}),
    line('MA', cMA, 4, 5, BLUE, 2.2, {smooth: 0.3}),
    line('MA 2°', cMA2, 4, 5, GREEN, 2.2, {smooth: 0.3}),
    {type: 'scatter', name: 'observations c', xAxisIndex: 4, yAxisIndex: 5, animation: false,
     data: obsLat.map(function (lat, i) { return [lat, cObs[i]]; }),
     symbol: 'emptyCircle', symbolSize: 7, itemStyle: {color: '#000', borderColor: '#000', borderWidth: 2}},
    // panel d
    line('ens TSMLT hi', dEnsRedHi, 6, 7, '#f6b9b9', 1, {smooth: 0.3}),
    line('ens TSMLT lo', dEnsRedLo, 6, 7, '#f6b9b9', 1, {smooth: 0.3}),
    line('ens MA2 hi', dEnsGreenHi, 6, 7, '#bfe3bc', 1, {smooth: 0.3}),
    line('ens MA2 lo', dEnsGreenLo, 6, 7, '#bfe3bc', 1, {smooth: 0.3}),
    line('TSMLT', dTSMLT, 6, 7, RED, 2.2, {smooth: 0.3}),
    line('MA', dMA, 6, 7, BLUE, 2.2, {smooth: 0.3}),
    line('MA 2°', dMA2, 6, 7, GREEN, 2.2, {smooth: 0.3}),
    {type: 'scatter', name: 'observations d', xAxisIndex: 6, yAxisIndex: 7, animation: false,
     data: obsLat.map(function (lat, i) { return [lat, dObs[i]]; }),
     symbol: 'emptyCircle', symbolSize: 7, itemStyle: {color: '#000', borderColor: '#000', borderWidth: 2}}
  ]
};
const chart = echarts.init(document.getElementById('chart'), null, {renderer: 'canvas'});
chart.setOption(option);
</script>
</body></html>
